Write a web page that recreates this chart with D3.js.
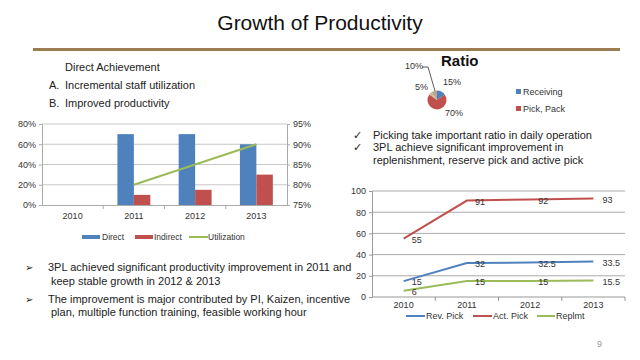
<!DOCTYPE html>
<html><head><meta charset="utf-8">
<script src="https://cdn.jsdelivr.net/npm/d3@7"></script>
<style>
body{margin:0;background:#fff;}
svg{font-family:"Liberation Sans",Arial,sans-serif;}
</style></head>
<body>
<svg id="c" width="640" height="360"></svg>
<script>
// ---- data ----
const years = ["2010","2011","2012","2013"];
const directVals = [0, 0.70, 0.70, 0.60];
const indirectVals = [0, 0.10, 0.15, 0.30];
const utilYears = ["2011","2012","2013"];
const utilVals = [0.80, 0.85, 0.90];
const leftTicks = [0, 0.2, 0.4, 0.6, 0.8];
const rightTicks = [0.75, 0.80, 0.85, 0.90, 0.95];

const pieLabels = ["Receiving","Pick, Pack","Other A","Other B"];
const pieVals = [15, 70, 5, 10];

const revPick = [15, 32, 32.5, 33.5];
const actPick = [55, 91, 92, 93];
const replmt = [6, 15, 15, 15.5];
const lineTicks = [0,20,40,60,80,100];

const blue="#4f81bd", red="#c0504d", green="#9bbb59";

const svg = d3.select("#c");

// ---- title ----
svg.append("text").attr("x",320).attr("y",30).attr("text-anchor","middle")
  .attr("font-size",21).attr("fill","#111").text("Growth of Productivity");
svg.append("rect").attr("x",33).attr("y",48).attr("width",587).attr("height",3).attr("fill","#9c7d52");

// ---- left texts ----
const t1 = svg.append("g").attr("font-size",11).attr("fill","#222");
t1.append("text").attr("x",65).attr("y",71).text("Direct Achievement");
t1.append("text").attr("x",49).attr("y",89).text("A.");
t1.append("text").attr("x",65).attr("y",89).text("Incremental staff utilization");
t1.append("text").attr("x",49).attr("y",107).text("B.");
t1.append("text").attr("x",65).attr("y",107).text("Improved productivity");

// ---- left bar chart ----
const xL = d3.scaleBand().domain(years).range([42,287]);
const xIn = d3.scaleBand().domain(["Direct","Indirect"]).range([0,xL.bandwidth()]).paddingOuter(0.86);
const yL = d3.scaleLinear().domain([0,0.8]).range([205,124]);
const yR = d3.scaleLinear().domain([0.75,0.95]).range([205,124]);

const gL = svg.append("g");
gL.append("g").selectAll("line").data(leftTicks.slice(1)).join("line")
  .attr("x1",42).attr("x2",287).attr("y1",d=>yL(d)).attr("y2",d=>yL(d))
  .attr("stroke","#c8c8c8");
const axL = gL.append("g").attr("transform","translate(42,0)")
  .call(d3.axisLeft(yL).tickValues(leftTicks).tickFormat(d3.format(".0%")).tickSize(3));
const axR = gL.append("g").attr("transform","translate(287,0)")
  .call(d3.axisRight(yR).tickValues(rightTicks).tickFormat(d3.format(".0%")).tickSize(3));
const axB = gL.append("g").attr("transform","translate(0,205)")
  .call(d3.axisBottom(xL).tickSize(0).tickPadding(8));
[axL,axR,axB].forEach(a=>{
  a.selectAll("path,line").attr("stroke","#aaa");
  a.selectAll("text").attr("font-size",9).attr("fill","#333").attr("font-family","Liberation Sans, Arial");
});
gL.append("g").selectAll("line").data(years.slice(1)).join("line")
  .attr("x1",d=>xL(d)).attr("x2",d=>xL(d)).attr("y1",205).attr("y2",209).attr("stroke","#aaa");

const barData = years.map((y,i)=>({year:y, vals:[{k:"Direct",v:directVals[i]},{k:"Indirect",v:indirectVals[i]}]}));
gL.append("g").selectAll("g").data(barData).join("g")
  .attr("transform",d=>`translate(${xL(d.year)},0)`)
  .selectAll("rect").data(d=>d.vals.filter(e=>e.v>0)).join("rect")
  .attr("x",d=>xIn(d.k)).attr("width",xIn.bandwidth())
  .attr("y",d=>yL(d.v)).attr("height",d=>yL(0)-yL(d.v))
  .attr("fill",d=>d.k==="Direct"?blue:red);

gL.append("path").datum(utilYears.map((y,i)=>[y,utilVals[i]]))
  .attr("fill","none").attr("stroke",green).attr("stroke-width",2)
  .attr("d",d3.line().x(d=>xL(d[0])+xL.bandwidth()/2).y(d=>yR(d[1])));

// legend
const lg = svg.append("g").attr("font-size",8.5).attr("fill","#333");
lg.append("rect").attr("x",82).attr("y",235).attr("width",18).attr("height",4).attr("fill",blue);
lg.append("text").attr("x",102).attr("y",240).text("Direct");
lg.append("rect").attr("x",135).attr("y",235).attr("width",18).attr("height",4).attr("fill",red);
lg.append("text").attr("x",154).attr("y",240).text("Indirect");
lg.append("line").attr("x1",189).attr("x2",208).attr("y1",237).attr("y2",237).attr("stroke",green).attr("stroke-width",2);
lg.append("text").attr("x",208).attr("y",240).text("Utilization");

// ---- left bullets ----
const b = svg.append("g").attr("font-size",11).attr("fill","#222");
b.append("text").attr("x",25).attr("y",271).attr("font-size",10).text("➢");
b.append("text").attr("x",48).attr("y",271).text("3PL achieved significant productivity improvement in 2011 and");
b.append("text").attr("x",51).attr("y",285).text("keep stable growth in 2012 & 2013");
b.append("text").attr("x",25).attr("y",303).attr("font-size",10).text("➢");
b.append("text").attr("x",48).attr("y",303).text("The improvement is major contributed by PI, Kaizen, incentive");
b.append("text").attr("x",51).attr("y",316).text("plan, multiple function training, feasible working hour");

// ---- ratio pie ----
svg.append("text").attr("x",441).attr("y",66).attr("font-size",15).attr("font-weight","bold").attr("fill","#111").text("Ratio");
const pieColors = [blue, red, "#d8b48a", "#b9a78f"];
const pie = d3.pie().sort(null).value(d=>d)(pieVals);
const arc = d3.arc().innerRadius(0).outerRadius(9.5);
const gp = svg.append("g").attr("transform","translate(437,100)");
gp.selectAll("path").data(pie).join("path").attr("d",arc).attr("fill",(d,i)=>pieColors[i]);
const pt = svg.append("g").attr("font-size",9).attr("fill","#333");
pt.append("text").attr("x",405).attr("y",69).text("10%");
pt.append("text").attr("x",415).attr("y",90).text("5%");
pt.append("text").attr("x",443).attr("y",85).text("15%");
pt.append("text").attr("x",445).attr("y",116).text("70%");
svg.append("path").attr("d","M422,67 L428,67 L435,91").attr("fill","none").attr("stroke","#333").attr("stroke-width",0.8);
pt.append("rect").attr("x",516).attr("y",89).attr("width",5).attr("height",5).attr("fill",blue);
pt.append("text").attr("x",523).attr("y",95).text("Receiving");
pt.append("rect").attr("x",516).attr("y",106).attr("width",5).attr("height",5).attr("fill",red);
pt.append("text").attr("x",523).attr("y",112).text("Pick, Pack");

// ---- right check text ----
const c = svg.append("g").attr("font-size",11).attr("fill","#222");
c.append("text").attr("x",353).attr("y",139).text("✓");
c.append("text").attr("x",373).attr("y",139).text("Picking take important ratio in daily operation");
c.append("text").attr("x",353).attr("y",151).text("✓");
c.append("text").attr("x",373).attr("y",151).text("3PL achieve significant improvement in");
c.append("text").attr("x",373).attr("y",164).text("replenishment, reserve pick and active pick");

// ---- right line chart ----
const xr = d3.scaleBand().domain(years).range([372,625]);
const yr = d3.scaleLinear().domain([0,100]).range([297,191]);
const gR = svg.append("g");
gR.append("g").selectAll("line").data(lineTicks.slice(1)).join("line")
  .attr("x1",372).attr("x2",625).attr("y1",d=>yr(d)).attr("y2",d=>yr(d)).attr("stroke","#aaa");
const ay = gR.append("g").attr("transform","translate(372,0)")
  .call(d3.axisLeft(yr).tickValues(lineTicks).tickSize(3));
const ax = gR.append("g").attr("transform","translate(0,297)")
  .call(d3.axisBottom(xr).tickSize(0).tickPadding(5));
[ay,ax].forEach(a=>{
  a.selectAll("path,line").attr("stroke","#999");
  a.selectAll("text").attr("font-size",9).attr("fill","#333").attr("font-family","Liberation Sans, Arial");
});
ax.select(".domain").attr("d","M372,0H625");
gR.append("g").selectAll("line").data(years.slice(1)).join("line")
  .attr("x1",d=>xr(d)).attr("x2",d=>xr(d)).attr("y1",297).attr("y2",301).attr("stroke","#999");
gR.append("line").attr("x1",625).attr("x2",625).attr("y1",297).attr("y2",301).attr("stroke","#999");

const series = [{vals:revPick,color:blue},{vals:actPick,color:red},{vals:replmt,color:green}];
const cx = y=>xr(y)+xr.bandwidth()/2;
series.forEach(s=>{
  const pts = years.map((y,i)=>[y,s.vals[i]]);
  gR.append("path").datum(pts).attr("fill","none").attr("stroke",s.color).attr("stroke-width",2)
    .attr("d",d3.line().x(d=>cx(d[0])).y(d=>yr(d[1])));
  gR.append("g").attr("font-size",9).attr("fill","#333").selectAll("text").data(pts).join("text")
    .attr("x",(d,i)=>i===3?cx(d[0])+9:cx(d[0])+8)
    .attr("y",d=>yr(d[1])+1).attr("dy","0.35em")
    .text(d=>d[1]);
});

const lr = svg.append("g").attr("font-size",9).attr("fill","#333");
lr.append("line").attr("x1",406).attr("x2",425).attr("y1",316).attr("y2",316).attr("stroke",blue).attr("stroke-width",2);
lr.append("text").attr("x",426).attr("y",319).text("Rev. Pick");
lr.append("line").attr("x1",473).attr("x2",492).attr("y1",316).attr("y2",316).attr("stroke",red).attr("stroke-width",2);
lr.append("text").attr("x",493).attr("y",319).text("Act. Pick");
lr.append("line").attr("x1",537).attr("x2",555).attr("y1",316).attr("y2",316).attr("stroke",green).attr("stroke-width",2);
lr.append("text").attr("x",556).attr("y",319).text("Replmt");

svg.append("text").attr("x",597).attr("y",347).attr("font-size",9).attr("fill","#999").text("9");
</script>
</body></html>
